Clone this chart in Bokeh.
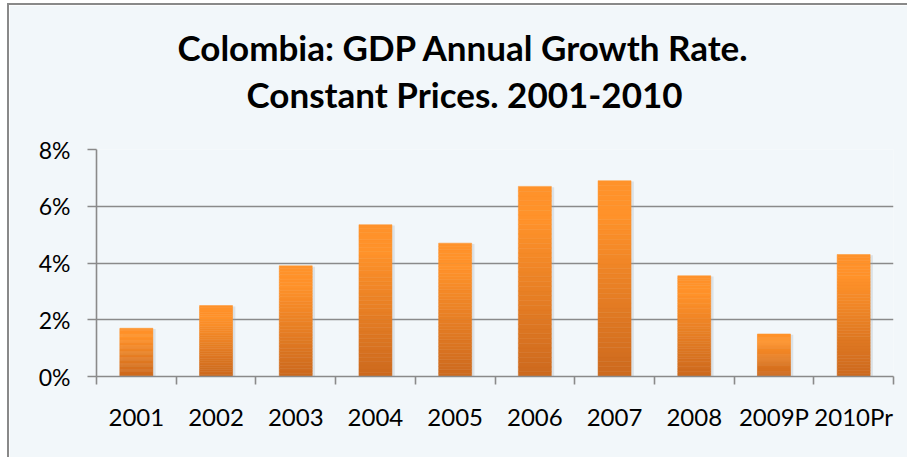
from bokeh.plotting import figure
from bokeh.models import Range1d, FixedTicker, Title, ColumnDataSource, PrintfTickFormatter
from bokeh.embed import file_html
from bokeh.resources import INLINE

# ---- data ----
categories = ["2001", "2002", "2003", "2004", "2005", "2006", "2007", "2008", "2009P", "2010Pr"]
growth_pct = [1.7, 2.5, 3.9, 5.35, 4.7, 6.7, 6.9, 3.55, 1.5, 4.3]
y_ticks = [0, 2, 4, 6, 8]
title_line1 = "Colombia: GDP Annual Growth Rate."
title_line2 = "Constant Prices. 2001-2010"

FONT = "Lato"
n = len(categories)
centers = [i + 0.5 for i in range(n)]

p = figure(width=900, height=454, output_backend="svg", toolbar_location=None,
           x_range=Range1d(0, n), y_range=Range1d(0, 8),
           min_border_left=87, min_border_right=16, min_border_top=144, min_border_bottom=83,
           margin=(3, 0, 0, 7),
           styles={"border-top": "2px solid #898989", "border-left": "2px solid #898989"})
p.background_fill_color = "#F2F7FA"
p.border_fill_color = "#F2F7FA"
p.outline_line_color = None
p.title.visible = False

# titles (first added is nearest to the plot); a blank spacer keeps them clear of the plot
p.add_layout(Title(text=" ", text_font=FONT, text_font_size="27px", standoff=0), "above")
p.add_layout(Title(text=title_line2, align="left", offset=150, text_font=FONT, text_font_style="bold",
                   text_font_size="35px", text_color="#000000", standoff=0), "above")
p.add_layout(Title(text=title_line1, align="left", offset=81, text_font=FONT, text_font_style="bold",
                   text_font_size="35px", text_color="#000000", standoff=5), "above")

# gradient bars made of stacked slices
def lerp(c1, c2, t):
    return "#%02x%02x%02x" % tuple(int(round(a + (b - a) * t)) for a, b in zip(c1, c2))

bottom_c = (0xCC, 0x69, 0x1E)
top_c = (0xFF, 0x92, 0x2A)
N = 40
xs, bots, tops, cols = [], [], [], []
for c, v in zip(centers, growth_pct):
    for k in range(N):
        f = (k + 0.5) / N
        t = min(1.0, f / 0.82)
        xs.append(c)
        bots.append(v * k / N)
        tops.append(v * (k + 1) / N)
        cols.append(lerp(bottom_c, top_c, t))

# subtle shadow
p.vbar(x=[c + 0.035 for c in centers], top=[v - 0.03 for v in growth_pct], bottom=0, width=0.414,
       fill_color="#9aa3ab", fill_alpha=0.25, line_color=None)
src = ColumnDataSource(dict(x=xs, bottom=bots, top=tops, color=cols))
p.vbar(x="x", bottom="bottom", top="top", width=0.414, fill_color="color", line_color="color",
       line_width=0.5, source=src)

# grid
p.xgrid.visible = False
p.ygrid.ticker = FixedTicker(ticks=y_ticks)
p.ygrid.grid_line_color = "#8a8a8a"
p.ygrid.grid_line_width = 1.6

# y axis
p.yaxis.ticker = FixedTicker(ticks=y_ticks)
p.yaxis.formatter = PrintfTickFormatter(format="%d%%")
p.yaxis.axis_line_color = "#8a8a8a"
p.yaxis.axis_line_width = 1.6
p.yaxis.major_tick_line_color = "#8a8a8a"
p.yaxis.major_tick_line_width = 1.6
p.yaxis.major_tick_out = 9
p.yaxis.major_tick_in = 0
p.yaxis.minor_tick_line_color = None
p.yaxis.major_label_standoff = 17
p.yaxis.major_label_text_font = FONT
p.yaxis.major_label_text_font_size = "23px"
p.yaxis.major_label_text_color = "#000000"

# x axis: labels at centres, ticks at category boundaries
p.xaxis.ticker = FixedTicker(ticks=centers, minor_ticks=list(range(n + 1)))
p.xaxis.major_label_overrides = {c: lab for c, lab in zip(centers, categories)}
p.xaxis.axis_line_color = "#8a8a8a"
p.xaxis.axis_line_width = 1.6
p.xaxis.major_tick_line_color = None
p.xaxis.major_tick_out = 8
p.xaxis.minor_tick_line_color = "#8a8a8a"
p.xaxis.minor_tick_line_width = 1.6
p.xaxis.minor_tick_out = 8
p.xaxis.minor_tick_in = 0
p.xaxis.major_label_standoff = 17
p.xaxis.major_label_text_font = FONT
p.xaxis.major_label_text_font_size = "24px"
p.xaxis.major_label_text_color = "#000000"

open("out.html", "w").write(file_html(p, INLINE))
